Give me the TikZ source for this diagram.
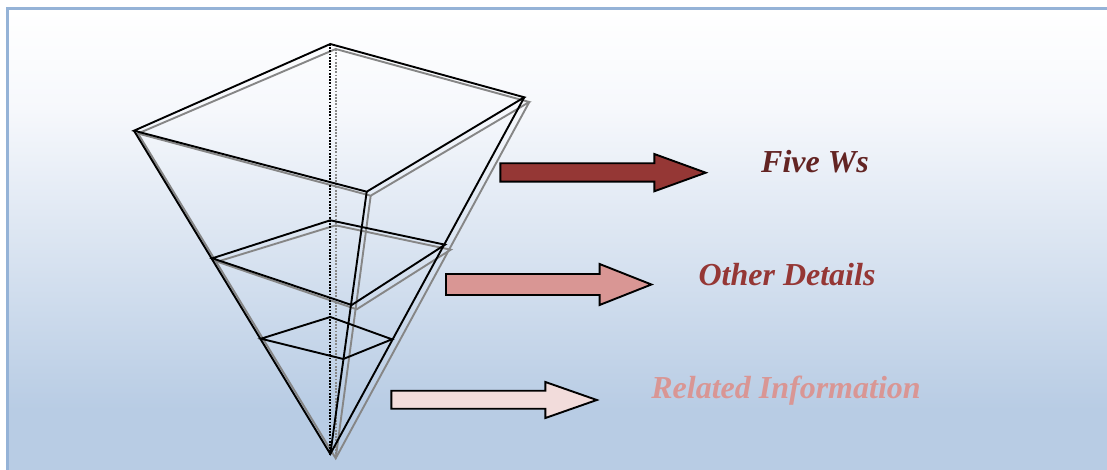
\documentclass[tikz,border=0pt]{standalone}
\usepackage{fontspec}
\setmainfont{Liberation Serif}
\definecolor{frameblue}{HTML}{95B3D7}
\definecolor{skyblue}{HTML}{B8CCE4}
\definecolor{paleblue}{HTML}{F6F8FC}
\definecolor{linegray}{HTML}{868686}
\definecolor{darkred}{HTML}{632423}
\definecolor{midred}{HTML}{953735}
\definecolor{softred}{HTML}{D99694}
\definecolor{palered}{HTML}{F2DCDB}
\tikzset{
  blackline/.style={draw=black,line width=1.9pt,line join=miter},
  grayline/.style={draw=linegray,line width=1.9pt,line join=miter},
  blackdots/.style={draw=black,line width=2pt,dash pattern=on 1.8pt off 1.4pt},
  graydots/.style={draw=linegray,line width=2pt,dash pattern=on 1.8pt off 1.4pt},
  blockarrow/.style={draw=black,line width=1.9pt,line join=miter},
  caption/.style={font=\fontsize{32}{35}\selectfont\bfseries\itshape,inner sep=0pt,anchor=center}
}
\begin{document}
\begin{tikzpicture}[x=1pt,y=-1pt]
\useasboundingbox (0,0) rectangle (1107,470);
\clip (0,0) rectangle (1107,470);
\fill[white] (0,0) rectangle (1107,470);
\shade[top color=white,bottom color=paleblue] (7.5,9) rectangle (1120,110);
\shade[top color=paleblue,bottom color=skyblue] (7.5,110) rectangle (1120,410);
\fill[skyblue] (7.5,409.5) rectangle (1120,480);
\draw[frameblue,line width=3pt] (1120,9) -- (7.5,9) -- (7.5,480);
% black vertices
\coordinate (A) at (330.3,454);
\coordinate (T1) at (330.3,44);
\coordinate (R1) at (524.3,97.3);
\coordinate (L1) at (134,130.7);
\coordinate (F1) at (366.7,191.7);
\coordinate (T2) at (330.3,220.3);
\coordinate (R2) at (445,244.7);
\coordinate (L2) at (212.3,258.3);
\coordinate (F2) at (351.7,305);
\coordinate (T3) at (330.3,317);
\coordinate (R3) at (392,339.3);
\coordinate (L3) at (261,338.7);
\coordinate (F3) at (343.3,359);
% gray vertices
\coordinate (gA) at (335.7,458.3);
\coordinate (gT1) at (335.7,49);
\coordinate (gR1) at (529.3,102);
\coordinate (gL1) at (138,133.5);
\coordinate (gF1) at (370.7,195.7);
\coordinate (gT2) at (335.7,225.3);
\coordinate (gR2) at (450.7,249.7);
\coordinate (gL2) at (217.3,261.7);
\coordinate (gF2) at (356.7,309.3);
% gray copy
\path[graydots] (gT1) -- (gA);
\path[grayline] (gT1) -- (gR1) -- (gF1) -- (gL1) -- cycle;
\path[grayline] (gT2) -- (gR2) -- (gF2) -- (gL2) -- cycle;
\path[grayline] (gL1) -- (gA) -- (gR1);
\path[grayline] (gF1) -- (gA);
% black pyramid
\path[blackdots] (T1) -- (A);
\path[blackline] (T1) -- (R1) -- (F1) -- (L1) -- cycle;
\path[blackline] (T2) -- (R2) -- (F2) -- (L2) -- cycle;
\path[blackline] (T3) -- (R3) -- (F3) -- (L3) -- cycle;
\path[blackline] (L1) -- (A) -- (R1);
\path[blackline] (F1) -- (A);
% block arrows
\path[blockarrow,fill=midred] (500.4,163.3) -- (654.3,163.3) -- (654.3,154) -- (705.7,172.7) -- (654.3,191.3) -- (654.3,181.7) -- (500.4,181.7) -- cycle;
\path[blockarrow,fill=softred] (446,274) -- (599.6,274) -- (599.6,264) -- (651.4,284.5) -- (599.6,305) -- (599.6,295) -- (446,295) -- cycle;
\path[blockarrow,fill=palered] (391.4,390.7) -- (545.4,390.7) -- (545.4,382) -- (596.8,400) -- (545.4,418) -- (545.4,408.7) -- (391.4,408.7) -- cycle;
% captions
\node[caption,text=darkred] (fivews) at (815,162) {Five Ws};
\node[caption,text=midred] (otherdetails) at (787,275) {Other Details};
\node[caption,text=softred] (related) at (786,391) {Related Information};
\end{tikzpicture}
\end{document}
